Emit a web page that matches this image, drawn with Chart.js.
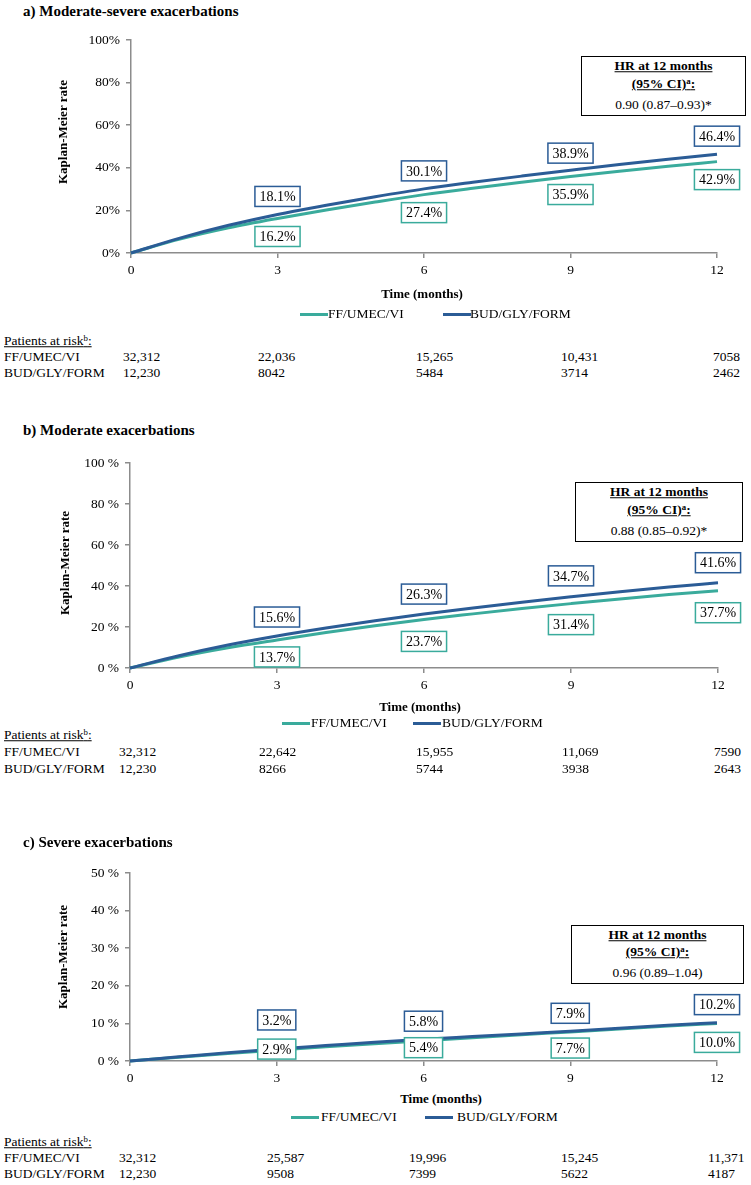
<!DOCTYPE html>
<html>
<head>
<meta charset="utf-8">
<script src="https://cdn.jsdelivr.net/npm/chart.js@4.4.1/dist/chart.umd.min.js"></script>
<style>
  body { margin: 0; background: #fff; width: 751px; height: 1185px; position: relative; overflow: hidden;
         font-family: "Liberation Serif", "Times New Roman", serif; color: #000; }
  .t { position: absolute; white-space: nowrap; line-height: 1; }
  .title { font-weight: bold; font-size: 15px; }
  .axt { font-weight: bold; font-size: 13px; }
  .small { font-size: 13.5px; }
  .hr { position: absolute; border: 1.5px solid #000; background: #fff; box-sizing: border-box; }
  .hr div { position: absolute; left: 0; right: 0; text-align: center; font-size: 13.5px; line-height: 1; transform: translateY(-50%); }
  .leg { position: absolute; height: 3px; }
  canvas { position: absolute; left: 0; }
  sup { font-size: 65%; line-height: 0; vertical-align: 0.5em; }
</style>
</head>
<body>
<script>
// Kaplan-Meier rates (%) by month
const months = [0, 1, 2, 3, 4, 5, 6, 7, 8, 9, 10, 11, 12];

const ffA  = [0, 6.5, 11.8, 16.2, 20.2, 23.9, 27.4, 30.4, 33.2, 35.9, 38.4, 40.7, 42.9];
const budA = [0, 7.0, 13.0, 18.1, 22.4, 26.4, 30.1, 33.2, 36.1, 38.9, 41.6, 44.0, 46.4];

const ffB  = [0, 5.4, 9.9, 13.7, 17.3, 20.6, 23.7, 26.4, 29.0, 31.4, 33.7, 35.8, 37.7];
const budB = [0, 6.0, 11.2, 15.6, 19.5, 23.1, 26.3, 29.3, 32.1, 34.7, 37.2, 39.5, 41.6];

const ffC  = [0, 1.0, 2.0, 2.9, 3.8, 4.6, 5.4, 6.2, 7.0, 7.7, 8.5, 9.3, 10.0];
const budC = [0, 1.1, 2.2, 3.2, 4.1, 5.0, 5.8, 6.5, 7.2, 7.9, 8.7, 9.5, 10.2];

// months that get a boxed value label
const labelMonths = [3, 6, 9, 12];

// patients at risk at 0, 3, 6, 9, 12 months
const riskFfA  = [32312, 22036, 15265, 10431, 7058];
const riskBudA = [12230, 8042, 5484, 3714, 2462];
const riskFfB  = [32312, 22642, 15955, 11069, 7590];
const riskBudB = [12230, 8266, 5744, 3938, 2643];
const riskFfC  = [32312, 25587, 19996, 15245, 11371];
const riskBudC = [12230, 9508, 7399, 5622, 4187];

const hrA = '0.90 (0.87–0.93)*';
const hrB = '0.88 (0.85–0.92)*';
const hrC = '0.96 (0.89–1.04)';

const TEAL = '#3aab9c';
const BLUE = '#2b5c96';
const AXIS = '#8c8c8c';
const FONT = '"Liberation Serif", "Times New Roman", serif';

const panels = [
    {
        title: 'a) Moderate-severe exacerbations', titleY: 11,
        canvasTop: 20, canvasH: 270, areaTop: 40, areaBottom: 253, left: 131, right: 717,
        yMax: 100, yStep: 20, ySuffix: '%',
        ff: ffA, bud: budA, dyFf: [18, 18, 18, 18], dyBud: [-18, -18, -17, -18],
        yTitle: [62, 132], xTitle: [422, 293],
        legend: { y: 314, ffLine: 300, ffText: 328, budLine: 443, budText: 470 },
        hr: { x0: 581, y0: 56, x1: 746, y1: 116, rows: [65, 83, 104], text: hrA },
        risk: { rows: [341, 357, 373], xs: [123, 258, 416, 561, 713], ff: riskFfA, bud: riskBudA }
    },
    {
        title: 'b) Moderate exacerbations', titleY: 430,
        canvasTop: 440, canvasH: 260, areaTop: 463, areaBottom: 668, left: 130, right: 718,
        yMax: 100, yStep: 20, ySuffix: ' %',
        ff: ffB, bud: budB, dyFf: [17, 22, 21, 22], dyBud: [-19, -20, -21, -20],
        yTitle: [64, 563], xTitle: [420, 706],
        legend: { y: 723, ffLine: 282, ffText: 311, budLine: 413, budText: 442 },
        hr: { x0: 575, y0: 482, x1: 743, y1: 542, rows: [491, 509, 530], text: hrB },
        risk: { rows: [735, 752, 769], xs: [119, 259, 416, 562, 714], ff: riskFfB, bud: riskBudB }
    },
    {
        title: 'c) Severe exacerbations', titleY: 842,
        canvasTop: 850, canvasH: 240, areaTop: 873, areaBottom: 1061, left: 130, right: 717,
        yMax: 50, yStep: 10, ySuffix: ' %',
        ff: ffC, bud: budC, dyFf: [-1, 7, 16, 19], dyBud: [-29, -18, -18, -18],
        yTitle: [62, 957], xTitle: [441, 1098],
        legend: { y: 1117, ffLine: 291, ffText: 321, budLine: 425, budText: 457 },
        hr: { x0: 571, y0: 925, x1: 744, y1: 984, rows: [934, 951, 972], text: hrC },
        risk: { rows: [1142, 1158, 1174], xs: [119, 267, 409, 561, 708], ff: riskFfC, bud: riskBudC }
    }
];

const Y_W = 60;   // fixed y-axis box width
const X_H = 25;   // fixed x-axis box height

function fmtN(n) {
    return n >= 10000 ? n.toLocaleString('en-US') : String(n);
}

// place a text div, vertically centred on y
function place(html, x, y, cls, align) {
    const d = document.createElement('div');
    d.className = 't ' + (cls || '');
    d.innerHTML = html;
    d.style.left = x + 'px';
    d.style.top = y + 'px';
    let tx = '0';
    if (align === 'center') tx = '-50%';
    d.style.transform = `translate(${tx}, -50%)`;
    document.body.appendChild(d);
    return d;
}

// boxed value labels above / below the curves
const boxLabels = {
    id: 'boxLabels',
    afterDatasetsDraw(chart) {
        const ctx = chart.ctx;
        const xs = chart.scales.x, ys = chart.scales.y;
        chart.data.datasets.forEach(ds => {
            labelMonths.forEach((m, i) => {
                const v = ds.data[months.indexOf(m)].y;
                const txt = v.toFixed(1) + '%';
                const cx = xs.getPixelForValue(m);
                const cy = ys.getPixelForValue(v) + ds.labelDy[i];
                ctx.save();
                ctx.font = `14px ${FONT}`;
                const w = ctx.measureText(txt).width + 9;
                const h = 20;
                ctx.fillStyle = '#fff';
                ctx.fillRect(cx - w / 2, cy - h / 2, w, h);
                ctx.strokeStyle = ds.borderColor;
                ctx.lineWidth = 1.5;
                ctx.strokeRect(cx - w / 2, cy - h / 2, w, h);
                ctx.fillStyle = '#000';
                ctx.textAlign = 'center';
                ctx.textBaseline = 'middle';
                ctx.fillText(txt, cx, cy + 1);
                ctx.restore();
            });
        });
    }
};

function buildPanel(p) {
    // headings and axis titles
    place(p.title, 23, p.titleY, 'title');
    const yt = place('Kaplan-Meier rate', p.yTitle[0], p.yTitle[1], 'axt');
    yt.style.transform = 'translate(-50%, -50%) rotate(-90deg)';
    place('Time (months)', p.xTitle[0], p.xTitle[1], 'axt', 'center');

    // legend
    const lg = p.legend;
    [[lg.ffLine, TEAL], [lg.budLine, BLUE]].forEach(([x, c]) => {
        const l = document.createElement('div');
        l.className = 'leg';
        l.style.left = x + 'px';
        l.style.top = (lg.y - 1.5) + 'px';
        l.style.width = '28px';
        l.style.background = c;
        document.body.appendChild(l);
    });
    place('FF/UMEC/VI', lg.ffText, lg.y, 'small');
    place('BUD/GLY/FORM', lg.budText, lg.y, 'small');

    // hazard ratio box
    const hb = document.createElement('div');
    hb.className = 'hr';
    hb.style.left = p.hr.x0 + 'px';
    hb.style.top = p.hr.y0 + 'px';
    hb.style.width = (p.hr.x1 - p.hr.x0) + 'px';
    hb.style.height = (p.hr.y1 - p.hr.y0) + 'px';
    const rowsHtml = [
        '<b><u>HR at 12 months</u></b>',
        '<b><u>(95% CI)<sup>a</sup>:</u></b>',
        p.hr.text
    ];
    rowsHtml.forEach((h, i) => {
        const r = document.createElement('div');
        r.innerHTML = h;
        r.style.top = (p.hr.rows[i] - p.hr.y0) + 'px';
        hb.appendChild(r);
    });
    document.body.appendChild(hb);

    // patients at risk
    const rk = p.risk;
    place('<u>Patients at risk<sup>b</sup>:</u>', 4, rk.rows[0], 'small');
    place('FF/UMEC/VI', 4, rk.rows[1], 'small');
    place('BUD/GLY/FORM', 4, rk.rows[2], 'small');
    rk.xs.forEach((x, i) => {
        place(fmtN(rk.ff[i]), x, rk.rows[1], 'small');
        place(fmtN(rk.bud[i]), x, rk.rows[2], 'small');
    });

    // chart
    const cv = document.createElement('canvas');
    cv.width = 751;
    cv.height = p.canvasH;
    cv.style.top = p.canvasTop + 'px';
    document.body.insertBefore(cv, document.body.firstChild);

    const localBottom = p.areaBottom - p.canvasTop;
    const scaleCommon = {
        grid: { drawOnChartArea: false, drawTicks: true, tickLength: 5, color: AXIS, lineWidth: 1.5 },
        border: { color: AXIS, width: 1.5 }
    };

    new Chart(cv.getContext('2d'), {
        type: 'line',
        data: {
            datasets: [
                {
                    label: 'FF/UMEC/VI',
                    data: months.map((m, i) => ({ x: m, y: p.ff[i] })),
                    borderColor: TEAL, borderWidth: 3, pointRadius: 0,
                    cubicInterpolationMode: 'monotone', clip: 6, order: 2,
                    labelDy: p.dyFf
                },
                {
                    label: 'BUD/GLY/FORM',
                    data: months.map((m, i) => ({ x: m, y: p.bud[i] })),
                    borderColor: BLUE, borderWidth: 3, pointRadius: 0,
                    cubicInterpolationMode: 'monotone', clip: 6, order: 1,
                    labelDy: p.dyBud
                }
            ]
        },
        options: {
            responsive: false,
            animation: false,
            layout: {
                padding: {
                    left: p.left - Y_W,
                    right: 751 - p.right,
                    top: p.areaTop - p.canvasTop,
                    bottom: p.canvasH - localBottom - X_H
                }
            },
            plugins: { legend: { display: false }, tooltip: { enabled: false } },
            scales: {
                x: Object.assign({
                    type: 'linear', min: 0, max: 12,
                    afterFit(s) { s.height = X_H; },
                    ticks: { stepSize: 3, color: '#000', padding: 4, maxRotation: 0,
                             font: { family: FONT, size: 13.5 } }
                }, scaleCommon),
                y: Object.assign({
                    min: 0, max: p.yMax,
                    afterFit(s) { s.width = Y_W; },
                    ticks: { stepSize: p.yStep, color: '#000', padding: 6,
                             callback: v => v + p.ySuffix,
                             font: { family: FONT, size: 13.5 } }
                }, scaleCommon)
            }
        },
        plugins: [boxLabels]
    });
}

panels.forEach(buildPanel);
</script>
</body>
</html>
